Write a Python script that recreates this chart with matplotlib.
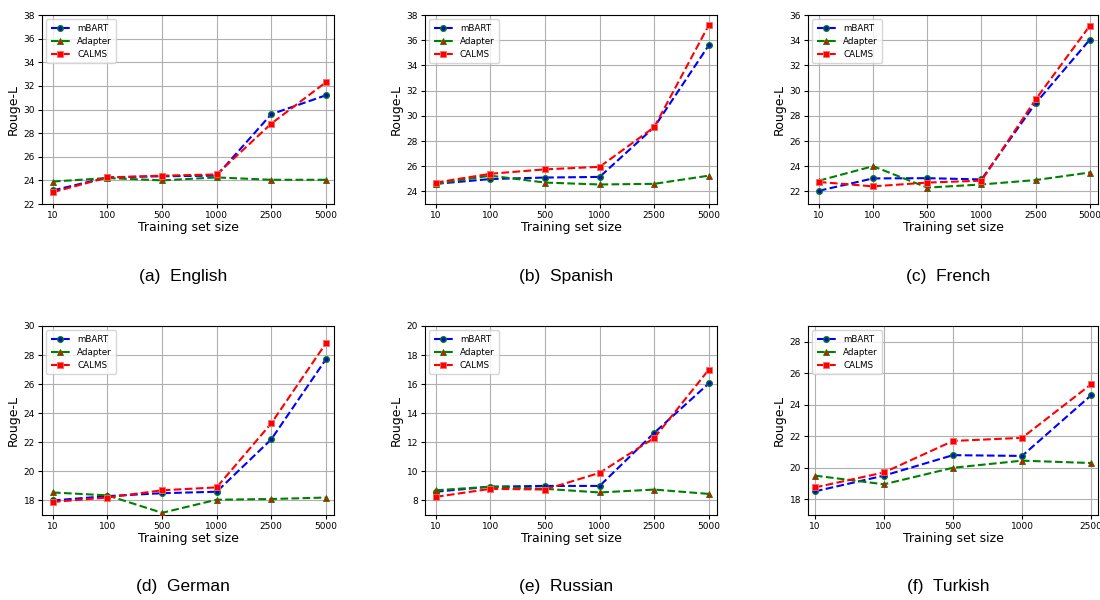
import matplotlib
matplotlib.use("Agg")
import matplotlib.pyplot as plt

sizes6 = ["10", "100", "500", "1000", "2500", "5000"]
sizes5 = ["10", "100", "500", "1000", "2500"]

en_mbart = [23.15, 24.25, 24.35, 24.4, 29.6, 31.2]
en_adapter = [23.9, 24.2, 24.0, 24.25, 24.05, 24.05]
en_calms = [23.0, 24.25, 24.4, 24.5, 28.8, 32.3]

es_mbart = [24.6, 24.98, 25.1, 25.15, 29.1, 35.6]
es_adapter = [24.6, 25.25, 24.7, 24.55, 24.6, 25.25]
es_calms = [24.7, 25.4, 25.75, 25.95, 29.1, 37.2]

fr_mbart = [22.05, 23.03, 23.05, 22.95, 29.0, 34.05]
fr_adapter = [22.85, 24.0, 22.3, 22.55, 22.9, 23.5]
fr_calms = [22.75, 22.4, 22.7, 22.85, 29.3, 35.15]

de_mbart = [18.0, 18.3, 18.5, 18.6, 22.2, 27.7]
de_adapter = [18.55, 18.35, 17.15, 18.05, 18.1, 18.2]
de_calms = [17.9, 18.2, 18.7, 18.9, 23.3, 28.8]

ru_mbart = [8.6, 8.95, 9.0, 9.0, 12.65, 16.05]
ru_adapter = [8.7, 8.95, 8.8, 8.55, 8.75, 8.45]
ru_calms = [8.25, 8.8, 8.75, 9.9, 12.3, 17.0]

tr_mbart = [18.5, 19.5, 20.8, 20.75, 24.6]
tr_adapter = [19.5, 18.95, 20.0, 20.45, 20.3]
tr_calms = [18.75, 19.7, 21.7, 21.9, 25.3]

captions = ["(a)  English", "(b)  Spanish", "(c)  French",
            "(d)  German", "(e)  Russian", "(f)  Turkish"]

panels = [
    (sizes6, en_mbart, en_adapter, en_calms, (22, 38), range(22, 39, 2)),
    (sizes6, es_mbart, es_adapter, es_calms, (23, 38), range(24, 39, 2)),
    (sizes6, fr_mbart, fr_adapter, fr_calms, (21, 36), range(22, 37, 2)),
    (sizes6, de_mbart, de_adapter, de_calms, (17, 30), range(18, 31, 2)),
    (sizes6, ru_mbart, ru_adapter, ru_calms, (7, 20), range(8, 21, 2)),
    (sizes5, tr_mbart, tr_adapter, tr_calms, (17, 29), range(18, 29, 2)),
]

W, H = 1100, 600
fig = plt.figure(figsize=(11, 6), dpi=100)

# axes boxes in pixels: (left, top, right, bottom)
boxes = [
    (42, 15, 334, 204), (425, 15, 717, 204), (808, 15, 1098, 204),
    (42, 326, 334, 515), (425, 326, 717, 515), (808, 326, 1098, 515),
]

for i, (box, pan, cap) in enumerate(zip(boxes, panels, captions)):
    l, t, r, b = box
    ax = fig.add_axes([l / W, 1 - b / H, (r - l) / W, (b - t) / H])
    labels, m, a, c, ylim, yt = pan
    x = list(range(len(labels)))
    ax.plot(x, m, linestyle="--", color="blue", marker="o", markersize=4,
            markerfacecolor="blue", markeredgecolor="green", markeredgewidth=1,
            label="mBART", zorder=3)
    ax.plot(x, a, linestyle="--", color="green", marker="^", markersize=5,
            markerfacecolor="red", markeredgecolor="green", markeredgewidth=0.6,
            label="Adapter", zorder=3)
    ax.plot(x, c, linestyle="--", color="red", marker="s", markersize=5,
            markerfacecolor="red", markeredgecolor="#ff6666", markeredgewidth=0.6,
            label="CALMS", zorder=3)
    ax.set_xticks(x)
    ax.set_xticklabels(labels)
    ax.set_ylim(*ylim)
    ax.set_yticks(list(yt))
    if len(labels) == 5:
        ax.set_xlim(-0.1, 4.1)
    else:
        ax.set_xlim(-0.2, 5.15)
    ax.tick_params(labelsize=6.5, length=3, pad=2)
    ax.grid(True, color="#b0b0b0", linewidth=0.8)
    ax.set_xlabel("Training set size", fontsize=9, labelpad=1)
    ax.set_ylabel("Rouge-L", fontsize=9, labelpad=3)
    ax.legend(loc="upper left", fontsize=6.3, handlelength=2.2,
              borderpad=0.5, labelspacing=0.45)
    cx = (l + r) / 2 - 5
    cy = 277 if i < 3 else 587
    fig.text(cx / W, 1 - cy / H, cap, ha="center", va="center",
             fontsize=12.5, family="Liberation Sans")

fig.savefig("out.png", dpi=100)
